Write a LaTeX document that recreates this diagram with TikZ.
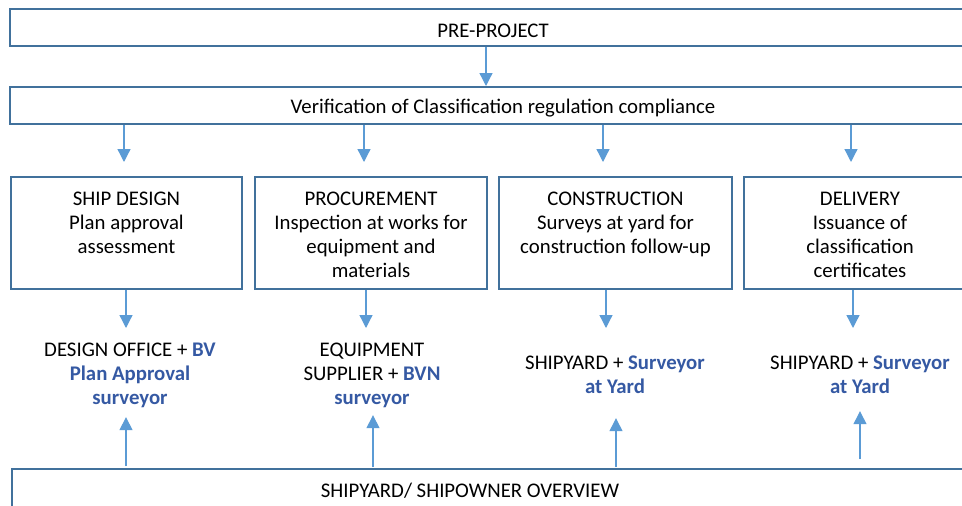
\documentclass[tikz,border=0pt]{standalone}
\usepackage{fontspec}
\setmainfont{Carlito}
\usepackage{tikz}
\usetikzlibrary{positioning}
\usetikzlibrary{arrows.meta}
\definecolor{boxblue}{HTML}{41719C}
\definecolor{arrowblue}{HTML}{5B9BD5}
\definecolor{bvblue}{HTML}{3559A3}

\tikzset{
  stage/.style={draw=boxblue, line width=2pt, fill=white, inner sep=0pt},
  flow/.style={draw=arrowblue, line width=1.3pt,
    -{Triangle[width=13pt,length=13pt,fill=arrowblue]}},
  who/.style={align=center, inner sep=0pt, anchor=north},
}
\newcommand{\bv}[1]{\textcolor{bvblue}{\textbf{#1}}}

\begin{document}
\begin{tikzpicture}[x=1pt, y=-1pt, font=\fontsize{20.8}{24}\selectfont]
        \useasboundingbox (0,0) rectangle (962,506);
        \clip (0,0) rectangle (962,506);

        % Arrow columns
        \coordinate (t1) at (124,0);
        \coordinate (t2) at (364,0);
        \coordinate (t3) at (603,0);
        \coordinate (t4) at (851,0);
        \coordinate (m1) at (126,0);
        \coordinate (m2) at (366,0);
        \coordinate (m3) at (606,0);
        \coordinate (m4) at (853,0);
        \coordinate (u1) at (126,0);
        \coordinate (u2) at (373,0);
        \coordinate (u3) at (616,0);
        \coordinate (u4) at (860,0);
        \coordinate (p0) at (486,0);

        % Pre-project
        \node[stage, minimum width=966pt, minimum height=37pt] (pre) at (493,27.5) {};
        \node[inner sep=0pt] (pretxt) at (493,30.5) {PRE-PROJECT};

        % Classification compliance
        \node[stage, minimum width=986pt, minimum height=37pt] (verif) at (503,105.5) {};
        \node[inner sep=0pt] (veriftxt) at (503,108.5) {Verification of Classification regulation compliance};
        \draw[flow] (pre.south -| p0) -- (verif.north -| p0);

        % Phases
        \node[stage, minimum width=231pt, minimum height=112pt] (design) at (126.5,233) {};
        \node[who, below=16pt of design.north] {SHIP DESIGN\\Plan approval\\assessment};

        \node[stage, minimum width=232pt, minimum height=112pt] (procure) at (371,233) {};
        \node[who, below=16pt of procure.north] {PROCUREMENT\\Inspection at works for\\equipment and\\materials};

        \node[stage, minimum width=233pt, minimum height=112pt] (build) at (615.5,233) {};
        \node[who, below=16pt of build.north] {CONSTRUCTION\\Surveys at yard for\\construction follow-up};

        \node[stage, minimum width=232pt, minimum height=112pt] (deliver) at (860,233) {};
        \node[who, below=16pt of deliver.north] {DELIVERY\\Issuance of\\classification\\certificates};

        \draw[flow, shorten >=14pt] (verif.south -| t1) -- (design.north -| t1);
        \draw[flow, shorten >=14pt] (verif.south -| t2) -- (procure.north -| t2);
        \draw[flow, shorten >=14pt] (verif.south -| t3) -- (build.north -| t3);
        \draw[flow, shorten >=14pt] (verif.south -| t4) -- (deliver.north -| t4);

        % Who is involved
        \node[who] (designwho) at (130,342.5) {DESIGN OFFICE + \bv{BV}\\ \bv{Plan Approval}\\ \bv{surveyor}};
        \node[who] (procurewho) at (372,342.5) {EQUIPMENT\\SUPPLIER + \bv{BVN}\\ \bv{surveyor}};
        \node[who] (buildwho) at (615,356) {SHIPYARD + \bv{Surveyor}\\ \bv{at Yard}};
        \node[who] (deliverwho) at (860,356) {SHIPYARD + \bv{Surveyor}\\ \bv{at Yard}};

        \draw[flow, shorten >=14.5pt] (design.south -| m1) -- (designwho.north -| m1);
        \draw[flow, shorten >=14.5pt] (procure.south -| m2) -- (procurewho.north -| m2);
        \draw[flow, shorten >=28pt] (build.south -| m3) -- (buildwho.north -| m3);
        \draw[flow, shorten >=28pt] (deliver.south -| m4) -- (deliverwho.north -| m4);

        % Overview
        \node[stage, minimum width=988pt, minimum height=71pt] (overview) at (506,504.5) {};
        \node[inner sep=0pt] (overviewtxt) at (470,491) {SHIPYARD/ SHIPOWNER OVERVIEW};

        \draw[flow, shorten <=2pt, shorten >=9.5pt] (overview.north -| u1) -- (designwho.south -| u1);
        \draw[flow, shorten <=1pt, shorten >=7.5pt] (overview.north -| u2) -- (procurewho.south -| u2);
        \draw[flow, shorten <=1pt, shorten >=24pt] (overview.north -| u3) -- (buildwho.south -| u3);
        \draw[flow, shorten <=9pt, shorten >=17pt] (overview.north -| u4) -- (deliverwho.south -| u4);

\end{tikzpicture}
\end{document}
